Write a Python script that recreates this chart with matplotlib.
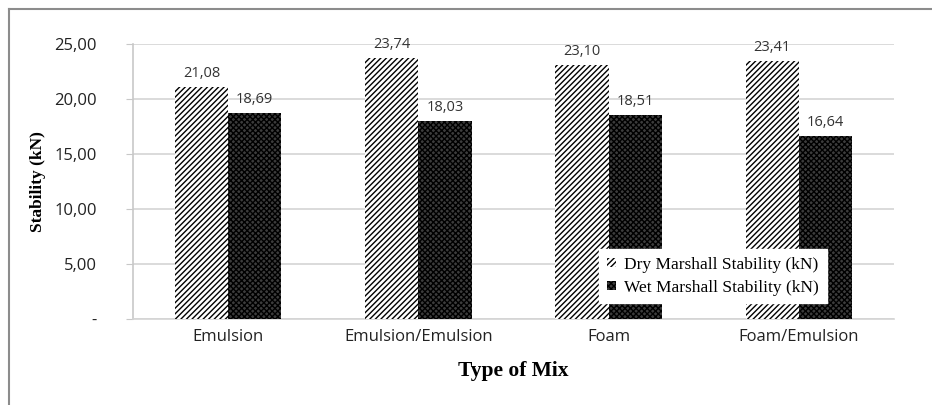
import numpy as np
import matplotlib.pyplot as plt
from matplotlib.patches import Patch
from matplotlib.lines import Line2D

# mix types and Marshall stability values (kN)
mixes = ['Emulsion', 'Emulsion/Emulsion', 'Foam', 'Foam/Emulsion']
dry_stability = [21.08, 23.74, 23.10, 23.41]
wet_stability = [18.69, 18.03, 18.51, 16.64]
y_ticks = [0, 5, 10, 15, 20, 25]
series_names = ['Dry Marshall Stability (kN)', 'Wet Marshall Stability (kN)']

plt.rcParams['hatch.linewidth'] = 1.0

fig = plt.figure(figsize=(9.32, 4.05), dpi=100)
ax = fig.add_axes([0.1427, 0.2123, 0.8165, 0.6791])

x = np.arange(len(mixes))
w = 0.28
dry = ax.bar(x - w / 2, dry_stability, w, color='white', edgecolor='black',
             hatch='//////', linewidth=0, zorder=3)
wet = ax.bar(x + w / 2, wet_stability, w, color='#3c3c3c', edgecolor='black',
             hatch='xxxxxx', linewidth=0, zorder=3)

lab_font = dict(family='Open Sans', fontsize=10.5, color='#333333', ha='center', va='bottom')
for xi, v in zip(x - w / 2, dry_stability):
    ax.text(xi, v + 0.55, f'{v:.2f}'.replace('.', ','), **lab_font)
for xi, v in zip(x + w / 2, wet_stability):
    ax.text(xi, v + 0.55, f'{v:.2f}'.replace('.', ','), **lab_font)

ax.set_xlim(-0.5, len(mixes) - 0.5)
ax.set_ylim(0, 25)
ax.set_yticks(y_ticks)
ax.set_yticklabels(['-' if t == 0 else f'{t:.2f}'.replace('.', ',') for t in y_ticks],
                   family='Open Sans', fontsize=12)
ax.set_xticks(x)
ax.set_xticklabels(mixes, family='Open Sans', fontsize=12)
ax.grid(axis='y', color='#d4d4d4', linewidth=1.2, zorder=0)

for side in ['top', 'right']:
    ax.spines[side].set_visible(False)
ax.spines['left'].set_color('#c8c8c8')
ax.spines['bottom'].set_color('#d4d4d4')
ax.spines['left'].set_linewidth(1.2)
ax.spines['bottom'].set_linewidth(1.2)
ax.tick_params(axis='y', length=5, color='#c8c8c8', pad=21, labelcolor='#222222')
ax.tick_params(axis='x', length=0, pad=7, labelcolor='#222222')

ax.set_ylabel('Stability (kN)', family='Liberation Serif', fontweight='bold',
              fontsize=12.5, labelpad=6)
ax.set_xlabel('Type of Mix', family='Liberation Serif', fontweight='bold',
              fontsize=15.5, labelpad=12)

handles = [Patch(facecolor='white', edgecolor='black', hatch='//////', linewidth=0),
           Patch(facecolor='#3c3c3c', edgecolor='black', hatch='xxxxxx', linewidth=0)]
leg = ax.legend(handles, series_names, loc='lower left', bbox_to_anchor=(0.601, 0.025),
                frameon=True, fancybox=False, framealpha=1, edgecolor='white',
                prop={'family': 'Liberation Serif', 'size': 12.5},
                handlelength=0.5, handleheight=0.5, handletextpad=0.5,
                borderpad=0.45, labelspacing=0.4, borderaxespad=0.5)
leg.get_frame().set_boxstyle('square', pad=0)
leg.set_zorder(5)

# grey border along the top and left of the figure
fig.add_artist(Line2D([9 / 932, 9 / 932], [0, 1 - 9 / 405], transform=fig.transFigure,
                      color='#8c8c8c', linewidth=1.5))
fig.add_artist(Line2D([9 / 932, 1], [1 - 9 / 405, 1 - 9 / 405], transform=fig.transFigure,
                      color='#8c8c8c', linewidth=1.5))

fig.savefig('out.png', dpi=100)
